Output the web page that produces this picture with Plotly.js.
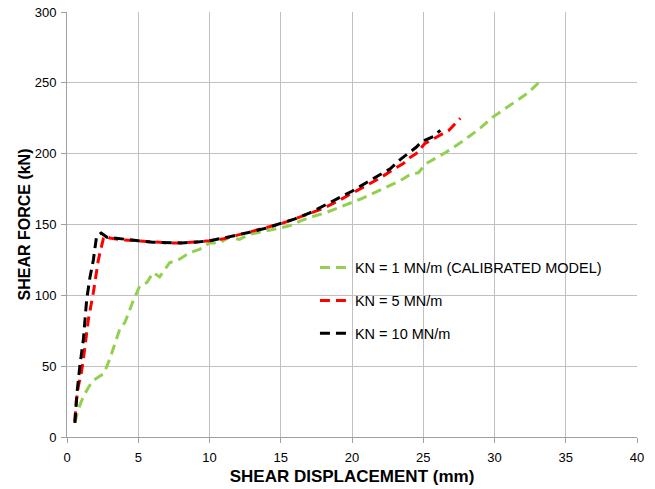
<!DOCTYPE html>
<html>
<head>
<meta charset="utf-8">
<script src="https://cdn.plot.ly/plotly-3.0.1.min.js"></script>
<style>html,body{margin:0;padding:0;background:#fff;}#chart{width:655px;height:489px;}</style>
</head>
<body>
<div id="chart"></div>
<script>
const seriesNames = ["KN = 1 MN/m (CALIBRATED MODEL)", "KN = 5 MN/m", "KN = 10 MN/m"];

const greenX = [0.55, 0.8, 1.15, 1.5, 1.85, 2.3, 2.6, 3.0, 3.7, 4.07, 4.6, 5.1, 5.6, 6.05, 6.5, 7.2, 7.9, 8.6, 9.3, 10.0, 10.7, 11.4, 12.1, 12.8, 13.5, 14.2, 14.9, 15.6, 16.4, 17.05, 18.2, 19.4, 20.6, 21.7, 22.9, 23.4, 24.1, 24.65, 25.2, 26.6, 27.8, 29.0, 29.9, 31.1, 32.3, 33.3];
const greenY = [10, 20, 28.5, 35, 40, 43, 45, 55, 76, 81, 95, 106.5, 109, 116, 113, 123, 125.5, 130, 132.5, 137, 137, 141, 139.5, 143, 144.5, 145.5, 147, 149, 152.5, 155, 158.5, 163, 168, 173, 178.5, 181, 185.5, 186.5, 193, 201, 209, 218, 226, 234, 242.5, 252];

const redX = [0.55, 0.65, 0.8, 1.0, 1.15, 1.5, 1.85, 2.2, 2.55, 2.7, 3.0, 3.5, 4.0, 5.0, 6.0, 7.0, 8.0, 9.0, 10.0, 11.0, 12.0, 13.0, 14.0, 15.0, 16.0, 17.0, 18.0, 19.0, 20.0, 21.0, 22.0, 23.0, 23.6, 24.1, 24.5, 25.1, 25.7, 26.8, 27.6];
const redY = [11, 25, 36, 45, 55, 83, 102, 125, 140, 142, 140.5, 139.5, 139, 138.5, 137.5, 137, 137, 137.5, 138.5, 140, 142.5, 145, 147.5, 150.5, 154, 157.5, 161.5, 166.5, 172, 177, 183, 189.5, 193, 197.5, 200, 207, 210.5, 216.5, 225];

const blackX = [0.55, 0.6, 0.7, 0.9, 1.15, 1.38, 1.6, 1.85, 2.08, 2.4, 2.8, 3.3, 4.0, 5.0, 6.0, 7.0, 8.0, 9.0, 10.0, 11.0, 12.0, 13.0, 14.0, 15.0, 16.0, 17.0, 18.0, 19.0, 20.0, 21.0, 22.0, 22.7, 23.4, 23.8, 24.5, 24.9, 25.7, 26.2];
const blackY = [10, 20, 31, 50, 69, 97, 112, 125, 142, 144, 141, 140.5, 139.5, 138.5, 137.5, 137, 137, 137.5, 138.5, 140.5, 142.5, 145, 147.5, 150.5, 154, 158, 163, 168.5, 173.5, 179.5, 185.5, 189.5, 196, 199, 204.5, 208.5, 212, 216.5];

const xTicks = [0, 5, 10, 15, 20, 25, 30, 35, 40];
const yTicks = [0, 50, 100, 150, 200, 250, 300];

const colors = ["#92D050", "#FF0000", "#000000"];
const xs = [greenX, redX, blackX];
const ys = [greenY, redY, blackY];

const traces = seriesNames.map((n, i) => ({
  x: xs[i], y: ys[i], name: n, type: "scatter", mode: "lines",
  legendgroup: "g" + i,
  line: {color: colors[i], width: 3, dash: "10px,6px"}
}));

const layout = {
  width: 655, height: 489,
  margin: {l: 67, r: 18, t: 12, b: 52},
  paper_bgcolor: "#fff", plot_bgcolor: "#fff",
  font: {family: "Liberation Sans, Arial, sans-serif", size: 13, color: "#000"},
  showlegend: true,
  legend: {x: 0.435, y: 0.436, xanchor: "left", yanchor: "top", bgcolor: "rgba(0,0,0,0)",
           font: {size: 14.5, color: "#000"}, traceorder: "grouped", tracegroupgap: 11, itemwidth: 30},
  xaxis: {range: [0, 40], tickvals: xTicks, ticktext: xTicks.map(String),
          showgrid: true, gridcolor: "#C0C0C0", gridwidth: 1,
          showline: true, linecolor: "#A0A0A0", linewidth: 1,
          ticks: "outside", ticklen: 5, tickcolor: "#A0A0A0", ticklabelstandoff: 3,
          zeroline: false, mirror: false,
          title: {text: "SHEAR DISPLACEMENT (mm)", font: {size: 17, color: "#000", weight: "bold"}, standoff: 6}},
  yaxis: {range: [0, 300], tickvals: yTicks, ticktext: yTicks.map(String),
          showgrid: true, gridcolor: "#C0C0C0", gridwidth: 1,
          showline: true, linecolor: "#A0A0A0", linewidth: 1,
          ticks: "outside", ticklen: 5, tickcolor: "#A0A0A0", ticklabelstandoff: 2,
          zeroline: false,
          title: {text: "SHEAR FORCE (kN)", font: {size: 16, color: "#000", weight: "bold"}, standoff: 0}}
};

Plotly.newPlot("chart", traces, layout, {displayModeBar: false, staticPlot: true});
</script>
</body>
</html>
